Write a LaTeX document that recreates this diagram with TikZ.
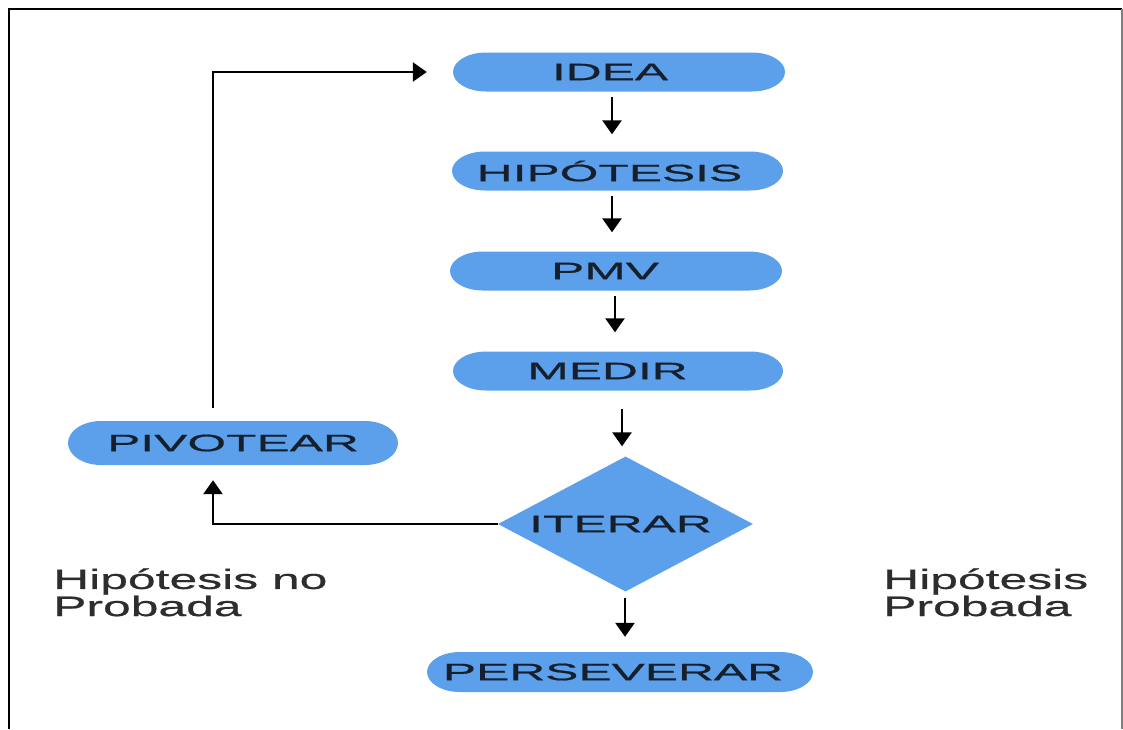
\documentclass[tikz,border=0pt]{standalone}
\usepackage{fontspec}
\usetikzlibrary{shapes.geometric,arrows.meta,calc}
\newfontfamily\boxfont[FakeStretch=2.1,FakeBold=0.9]{Liberation Sans}
\newfontfamily\notefont[FakeStretch=1.78,FakeBold=0.7]{Liberation Sans}
\definecolor{capblue}{RGB}{92,160,236}
\definecolor{capink}{RGB}{22,32,44}
\definecolor{noteink}{RGB}{45,45,45}

\begin{document}
\begin{tikzpicture}[x=1pt,y=1pt,
  boxtext/.style={font=\boxfont\fontsize{23.7pt}{26pt}\selectfont, text=capink},
  capsule/.style={boxtext, minimum width=#1, minimum height=39pt, inner sep=0pt,
    path picture={
      \fill[capblue] let \p1=(path picture bounding box.south west),
                         \p2=(path picture bounding box.north east),
                         \n1={(\y2-\y1)/2} in
        (\x1+33pt,\y1) -- (\x2-33pt,\y1)
        arc[start angle=-90,end angle=90,x radius=33pt,y radius=\n1]
        -- (\x1+33pt,\y2)
        arc[start angle=90,end angle=270,x radius=33pt,y radius=\n1] -- cycle;}},
  nudge/.style={execute at begin node={\hspace*{-#1}}},
  decision/.style={boxtext, diamond, fill=capblue, inner sep=0pt,
    minimum width=255pt, minimum height=135pt, aspect=1.89},
  note/.style={anchor=base west, align=left, inner sep=0pt, text=noteink,
    font=\notefont\fontsize{28pt}{21pt}\selectfont},
  arr/.style={line width=2.6pt, -{Triangle[width=19pt,length=14pt]}}]

\useasboundingbox (0,0) rectangle (1123,-729);

% frame
\draw[line width=2pt] (9,-729) -- (9,-9) -- (1122,-9);
\draw[gray, line width=1.5pt] (1122,-9) -- (1122,-729);

% steps
\node[capsule=332pt, nudge=18pt] (idea) at (619,-72) {IDEA};
\node[capsule=331pt, nudge=16pt] (hip) at (617.5,-171) {HIPÓTESIS};
\node[capsule=332pt, nudge=22pt] (pmv) at (616,-271) {PMV};
\node[capsule=330pt, nudge=21pt] (medir) at (618,-371) {MEDIR};
\node[decision, nudge=10pt] (iter) at (625.5,-524) {ITERAR};
\node[capsule=386pt, minimum height=40pt, nudge=14pt] (pers) at (620,-672) {PERSEVERAR};
\node[capsule=330pt, minimum height=44pt] (pivot) at (233,-443) {PIVOTEAR};

% notes (anchored on the baseline of the second line)
\node[note] (nofit) at (53,-616) {Hipótesis no\\Probada};
\node[note] (fit) at (883,-616) {Hipótesis\\Probada};

% main flow
\draw[arr] ([xshift=-7pt,yshift=-5pt]idea.south) -- ([xshift=-5.5pt,yshift=17pt]hip.north);
\draw[arr] ([xshift=-5.5pt,yshift=-5pt]hip.south) -- ([xshift=-4pt,yshift=19pt]pmv.north);
\draw[arr] ([xshift=-1pt,yshift=-5pt]pmv.south) -- ([xshift=-3pt,yshift=19pt]medir.north);
\draw[arr] ([xshift=4pt,yshift=-18pt]medir.south) -- ([xshift=-3.5pt,yshift=10pt]iter.north);
\draw[arr] ([xshift=-0.5pt,yshift=-6pt]iter.south) -- ([xshift=5pt,yshift=15pt]pers.north);

% pivot loop
\draw[arr] (iter.west) -| ([xshift=-20pt,yshift=-15pt]pivot.south);
\draw[arr] ([xshift=-20pt,yshift=13pt]pivot.north) |- ([xshift=-26pt]idea.west);
\end{tikzpicture}
\end{document}
